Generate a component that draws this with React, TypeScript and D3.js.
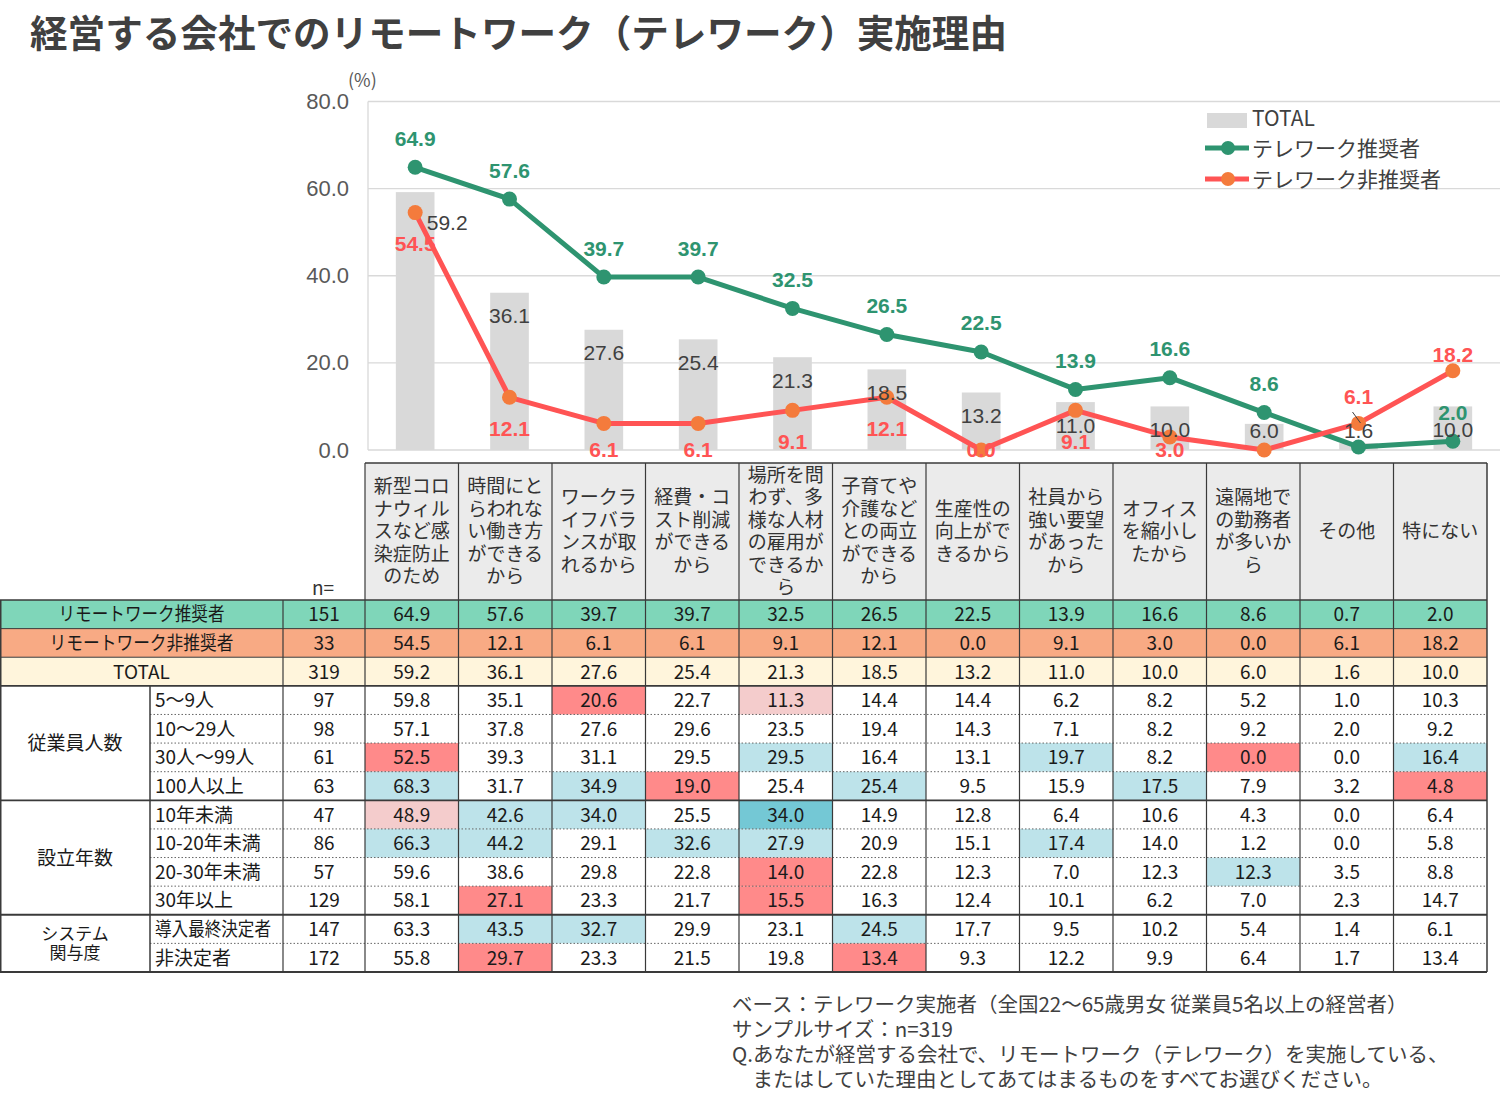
import React from "react";
import * as d3 from "d3";

const W = 1501;
const H = 1107;

const JP = "'Noto Sans CJK JP', 'Noto Sans', sans-serif";
const NUM = "'Liberation Sans', Arial, sans-serif";

// reasons (x axis / table columns)
const categories = [
  "新型コロナウィルスなど感染症防止のため",
  "時間にとらわれない働き方ができるから",
  "ワークライフバランスが取れるから",
  "経費・コスト削減ができるから",
  "場所を問わず、多様な人材の雇用ができるから",
  "子育てや介護などとの両立ができるから",
  "生産性の向上ができるから",
  "社員から強い要望があったから",
  "オフィスを縮小したから",
  "遠隔地での勤務者が多いから",
  "その他",
  "特にない",
];

const headerLines = [
  ["新型コロ", "ナウィル", "スなど感", "染症防止", "のため"],
  ["時間にと", "らわれな", "い働き方", "ができる", "から"],
  ["ワークラ", "イフバラ", "ンスが取", "れるから"],
  ["経費・コ", "スト削減", "ができる", "から"],
  ["場所を問", "わず、多", "様な人材", "の雇用が", "できるか", "ら"],
  ["子育てや", "介護など", "との両立", "ができる", "から"],
  ["生産性の", "向上がで", "きるから"],
  ["社員から", "強い要望", "があった", "から"],
  ["オフィス", "を縮小し", "たから"],
  ["遠隔地で", "の勤務者", "が多いか", "ら"],
  ["その他"],
  ["特にない"],
];

const totalValues = [59.2, 36.1, 27.6, 25.4, 21.3, 18.5, 13.2, 11.0, 10.0, 6.0, 1.6, 10.0];
const recValues = [64.9, 57.6, 39.7, 39.7, 32.5, 26.5, 22.5, 13.9, 16.6, 8.6, 0.7, 2.0];
const nonRecValues = [54.5, 12.1, 6.1, 6.1, 9.1, 12.1, 0.0, 9.1, 3.0, 0.0, 6.1, 18.2];
const yTicks = [0, 20, 40, 60, 80];

// labels left out of the plot where they would collide
const hiddenRecLabels = [10];
const hiddenNonRecLabels = [9];

const seriesNames = ["TOTAL", "テレワーク推奨者", "テレワーク非推奨者"];

// table rows
const rowLabels = [
  "リモートワーク推奨者",
  "リモートワーク非推奨者",
  "TOTAL",
  "5〜9人",
  "10〜29人",
  "30人〜99人",
  "100人以上",
  "10年未満",
  "10-20年未満",
  "20-30年未満",
  "30年以上",
  "導入最終決定者",
  "非決定者",
];
const rowN = [151, 33, 319, 97, 98, 61, 63, 47, 86, 57, 129, 147, 172];
const rowValues = [
  recValues,
  nonRecValues,
  totalValues,
  [59.8, 35.1, 20.6, 22.7, 11.3, 14.4, 14.4, 6.2, 8.2, 5.2, 1.0, 10.3],
  [57.1, 37.8, 27.6, 29.6, 23.5, 19.4, 14.3, 7.1, 8.2, 9.2, 2.0, 9.2],
  [52.5, 39.3, 31.1, 29.5, 29.5, 16.4, 13.1, 19.7, 8.2, 0.0, 0.0, 16.4],
  [68.3, 31.7, 34.9, 19.0, 25.4, 25.4, 9.5, 15.9, 17.5, 7.9, 3.2, 4.8],
  [48.9, 42.6, 34.0, 25.5, 34.0, 14.9, 12.8, 6.4, 10.6, 4.3, 0.0, 6.4],
  [66.3, 44.2, 29.1, 32.6, 27.9, 20.9, 15.1, 17.4, 14.0, 1.2, 0.0, 5.8],
  [59.6, 38.6, 29.8, 22.8, 14.0, 22.8, 12.3, 7.0, 12.3, 12.3, 3.5, 8.8],
  [58.1, 27.1, 23.3, 21.7, 15.5, 16.3, 12.4, 10.1, 6.2, 7.0, 2.3, 14.7],
  [63.3, 43.5, 32.7, 29.9, 23.1, 24.5, 17.7, 9.5, 10.2, 5.4, 1.4, 6.1],
  [55.8, 29.7, 23.3, 21.5, 19.8, 13.4, 9.3, 12.2, 9.9, 6.4, 1.7, 13.4],
];
// difference vs TOTAL: u = higher, U = much higher, d = lower, D = much lower
const rowMarks = [
  "............",
  "............",
  "............",
  "..D.d.......",
  "............",
  "D...u..u.D.u",
  "u.uD.u..u..D",
  "duu.U.......",
  "uu.uu..u....",
  "....D....u..",
  ".D..D.......",
  ".uu..u......",
  ".D...D......",
];
const groups = [
  { name: ["従業員人数"], start: 3, end: 7 },
  { name: ["設立年数"], start: 7, end: 11 },
  { name: ["システム", "関与度"], start: 11, end: 13 },
];

const footerLines = [
  "ベース：テレワーク実施者（全国22〜65歳男女 従業員5名以上の経営者）",
  "サンプルサイズ：n=319",
  "Q.あなたが経営する会社で、リモートワーク（テレワーク）を実施している、",
  "　またはしていた理由としてあてはまるものをすべてお選びください。",
];

const GREEN = "#2e9470";
const RED = "#ff5454";
const ORANGE = "#f47b3c";
const BAR = "#d9d9d9";
const GRID = "#d9d9d9";
const TEXT = "#404040";

const rowFill = ["#7fd6b9", "#f8aa84", "#fff5dc"];
const markFill: Record<string, string> = {
  u: "#bde3ea",
  U: "#74c8d5",
  d: "#f4cccc",
  D: "#ff8a8a",
};

// squeeze a few long row labels like the condensed table font
const labelLength: Record<number, number> = { 0: 166, 1: 184, 11: 116 };

const Chart = () => {
  const x = d3.scaleBand<string>().domain(categories).range([368, 1500]);
  const y = d3.scaleLinear().domain([0, 80]).range([450, 101.5]);
  const cx = (i: number) => (x(categories[i]) ?? 0) + x.bandwidth() / 2;
  const barW = x.bandwidth() * 0.41;

  const line = d3
    .line<number>()
    .x((_, i) => cx(i))
    .y((d) => y(d));

  // red labels sit under the point, except the last two which go above
  const nonRecLabelY = (v: number, i: number) => {
    if (i === 11) return y(v) - 16;
    if (i === 10) return y(v) - 27;
    return Math.min(y(v) + 31, 449);
  };

  return (
    <g>
      {/* grid + axis */}
      {yTicks.map((t) => (
        <g key={t}>
          <line x1={368} x2={1500} y1={y(t)} y2={y(t)} stroke={GRID} strokeWidth={1.3} />
          <text
            x={349}
            y={y(t)}
            textAnchor="end"
            dominantBaseline="central"
            fontFamily={NUM}
            fontSize={22}
            fill="#595959"
          >
            {t.toFixed(1)}
          </text>
        </g>
      ))}
      <line x1={368} x2={368} y1={y(80)} y2={y(0)} stroke={GRID} strokeWidth={1.3} />
      <text x={348} y={79} fontFamily={JP} fontSize={18} fill="#595959" dominantBaseline="central">
        (%)
      </text>

      {/* TOTAL bars */}
      {totalValues.map((v, i) => (
        <rect key={i} x={cx(i) - barW / 2} y={y(v)} width={barW} height={y(0) - y(v)} fill={BAR} />
      ))}

      {/* lines */}
      <path d={line(recValues) ?? ""} fill="none" stroke={GREEN} strokeWidth={5} strokeLinejoin="round" />
      <path d={line(nonRecValues) ?? ""} fill="none" stroke={RED} strokeWidth={5} strokeLinejoin="round" />
      {recValues.map((v, i) => (
        <circle key={"g" + i} cx={cx(i)} cy={y(v)} r={7.5} fill={GREEN} />
      ))}
      {nonRecValues.map((v, i) => (
        <circle key={"r" + i} cx={cx(i)} cy={y(v)} r={7.5} fill={ORANGE} />
      ))}

      {/* TOTAL labels */}
      {totalValues.map((v, i) => {
        const ly = i === 0 ? y(v) + 30 : Math.min(y(v) + 23, 430);
        const lx = i === 0 ? cx(i) + 32 : cx(i);
        return (
          <text
            key={"tl" + i}
            x={lx}
            y={ly}
            textAnchor="middle"
            dominantBaseline="central"
            fontFamily={NUM}
            fontSize={21}
            fill={TEXT}
          >
            {v.toFixed(1)}
          </text>
        );
      })}
      {/* small leader for the 1.6 label */}
      <line
        x1={cx(10) - 6}
        y1={y(totalValues[10]) - 31}
        x2={cx(10) + 2}
        y2={y(totalValues[10]) - 20}
        stroke={TEXT}
        strokeWidth={1}
      />

      {/* recommender labels */}
      {recValues.map((v, i) =>
        hiddenRecLabels.includes(i) ? null : (
          <text
            key={"gl" + i}
            x={cx(i)}
            y={y(v) - 29}
            textAnchor="middle"
            dominantBaseline="central"
            fontFamily={NUM}
            fontWeight="bold"
            fontSize={21}
            fill={GREEN}
          >
            {v.toFixed(1)}
          </text>
        )
      )}
      {/* non-recommender labels */}
      {nonRecValues.map((v, i) =>
        hiddenNonRecLabels.includes(i) ? null : (
          <text
            key={"rl" + i}
            x={cx(i)}
            y={nonRecLabelY(v, i)}
            textAnchor="middle"
            dominantBaseline="central"
            fontFamily={NUM}
            fontWeight="bold"
            fontSize={21}
            fill={RED}
          >
            {v.toFixed(1)}
          </text>
        )
      )}

      {/* legend */}
      <g fontFamily={JP} fontSize={21} fill={TEXT}>
        <rect x={1207} y={113} width={40} height={15} fill={BAR} />
        <text x={1252} y={117} dominantBaseline="central">
          {seriesNames[0]}
        </text>
        <line x1={1205} x2={1249} y1={148} y2={148} stroke={GREEN} strokeWidth={5} />
        <circle cx={1228} cy={148} r={7} fill={GREEN} />
        <text x={1252} y={147} dominantBaseline="central">
          {seriesNames[1]}
        </text>
        <line x1={1205} x2={1249} y1={179} y2={179} stroke={RED} strokeWidth={5} />
        <circle cx={1228} cy={179} r={7} fill={ORANGE} />
        <text x={1252} y={178} dominantBaseline="central">
          {seriesNames[2]}
        </text>
      </g>
    </g>
  );
};

const Table = () => {
  const tx = d3.scaleBand<string>().domain(categories).range([365, 1487]);
  const ry = d3.scaleBand<number>().domain(d3.range(rowLabels.length)).range([600, 972]);
  const rh = ry.bandwidth();
  const colX = (c: number) => tx(categories[c]) ?? 0;
  const colC = (c: number) => colX(c) + tx.bandwidth() / 2;
  const headTop = 463;
  const headMid = 529.5;
  const lineH = 22.5;
  const bottom = 972;
  const right = 1487;
  const dark = "#3a3a3a";
  const lift = 1.5; // digits sit a touch low on the CJK central baseline

  const sectionEnds = [2, ...groups.map((g) => g.end - 1)];

  return (
    <g fontFamily={JP} fontSize={19} fill="#1a1a1a">
      {/* header */}
      <rect x={365} y={headTop} width={right - 365} height={600 - headTop} fill="#ebebeb" />
      {headerLines.map((lines, c) => (
        <g key={c}>
          {lines.map((s, k) => (
            <text
              key={k}
              x={colC(c)}
              y={headMid - ((lines.length - 1) * lineH) / 2 + k * lineH}
              textAnchor="middle"
              dominantBaseline="central"
              fill="#333"
            >
              {s}
            </text>
          ))}
        </g>
      ))}
      <text x={323} y={586} textAnchor="middle" dominantBaseline="central" fill="#333">
        n=
      </text>

      {/* row backgrounds and highlighted cells */}
      {rowLabels.map((_, r) => (
        <g key={"bg" + r}>
          {r < 3 && <rect x={0} y={ry(r)} width={right} height={rh} fill={rowFill[r]} />}
          {rowMarks[r].split("").map((m, c) =>
            markFill[m] ? (
              <rect key={c} x={colX(c)} y={ry(r)} width={tx.bandwidth()} height={rh} fill={markFill[m]} />
            ) : null
          )}
        </g>
      ))}

      {/* row texts */}
      {rowLabels.map((label, r) => {
        const yc = (ry(r) ?? 0) + rh / 2 - lift;
        const len = labelLength[r];
        return (
          <g key={"row" + r}>
            <text
              x={r < 3 ? 141.5 : 155}
              y={yc}
              textAnchor={r < 3 ? "middle" : "start"}
              dominantBaseline="central"
              textLength={len}
              lengthAdjust={len ? "spacingAndGlyphs" : undefined}
            >
              {label}
            </text>
            <text x={324} y={yc} textAnchor="middle" dominantBaseline="central">
              {rowN[r]}
            </text>
            {rowValues[r].map((v, c) => (
              <text key={c} x={colC(c)} y={yc} textAnchor="middle" dominantBaseline="central">
                {v.toFixed(1)}
              </text>
            ))}
          </g>
        );
      })}

      {/* group labels */}
      {groups.map((g) => {
        const y0 = ry(g.start) ?? 0;
        const y1 = (ry(g.end - 1) ?? 0) + rh;
        const mid = (y0 + y1) / 2 - lift;
        return g.name.map((s, k) => (
          <text
            key={g.start + "-" + k}
            x={75}
            y={mid - ((g.name.length - 1) * 19) / 2 + k * 19}
            textAnchor="middle"
            dominantBaseline="central"
            fontSize={g.name.length > 1 ? 17 : 19}
          >
            {s}
          </text>
        ));
      })}

      {/* grid lines */}
      <line x1={365} x2={right} y1={headTop} y2={headTop} stroke={dark} strokeWidth={1.5} />
      <line x1={0} x2={right} y1={600} y2={600} stroke={dark} strokeWidth={1.5} />
      {rowLabels.map((_, r) => {
        const yb = (ry(r) ?? 0) + rh;
        if (r < 2)
          return <line key={"h" + r} x1={0} x2={right} y1={yb} y2={yb} stroke={dark} strokeWidth={1} />;
        if (sectionEnds.includes(r))
          return <line key={"h" + r} x1={0} x2={right} y1={yb} y2={yb} stroke={dark} strokeWidth={1.8} />;
        return (
          <line
            key={"h" + r}
            x1={150}
            x2={right}
            y1={yb}
            y2={yb}
            stroke="#666"
            strokeWidth={1}
            strokeDasharray="1.5,2"
          />
        );
      })}
      <line x1={0.75} x2={0.75} y1={600} y2={bottom} stroke={dark} strokeWidth={1.5} />
      <line x1={150} x2={150} y1={ry(3) ?? 0} y2={bottom} stroke={dark} strokeWidth={1.5} />
      <line x1={283} x2={283} y1={600} y2={bottom} stroke={dark} strokeWidth={1.2} />
      {categories.map((_, c) => (
        <line key={"v" + c} x1={colX(c)} x2={colX(c)} y1={headTop} y2={bottom} stroke={dark} strokeWidth={1.2} />
      ))}
      <line x1={right} x2={right} y1={headTop} y2={bottom} stroke={dark} strokeWidth={1.5} />
    </g>
  );
};

const App = () => {
  return (
    <svg
      width={W}
      height={H}
      viewBox={`0 0 ${W} ${H}`}
      style={{ position: "absolute", left: 0, top: 0, background: "#fff" }}
    >
      <rect width={W} height={H} fill="#fff" />
      <text x={30} y={30} fontFamily={JP} fontWeight="bold" fontSize={37.6} fill={TEXT} dominantBaseline="central">
        経営する会社でのリモートワーク（テレワーク）実施理由
      </text>
      <Chart />
      <Table />
      <g fontFamily={JP} fontSize={20.5} fill={TEXT}>
        {footerLines.map((s, i) => (
          <text key={i} x={732} y={1003 + i * 25} dominantBaseline="central">
            {s}
          </text>
        ))}
      </g>
    </svg>
  );
};

export default App;
